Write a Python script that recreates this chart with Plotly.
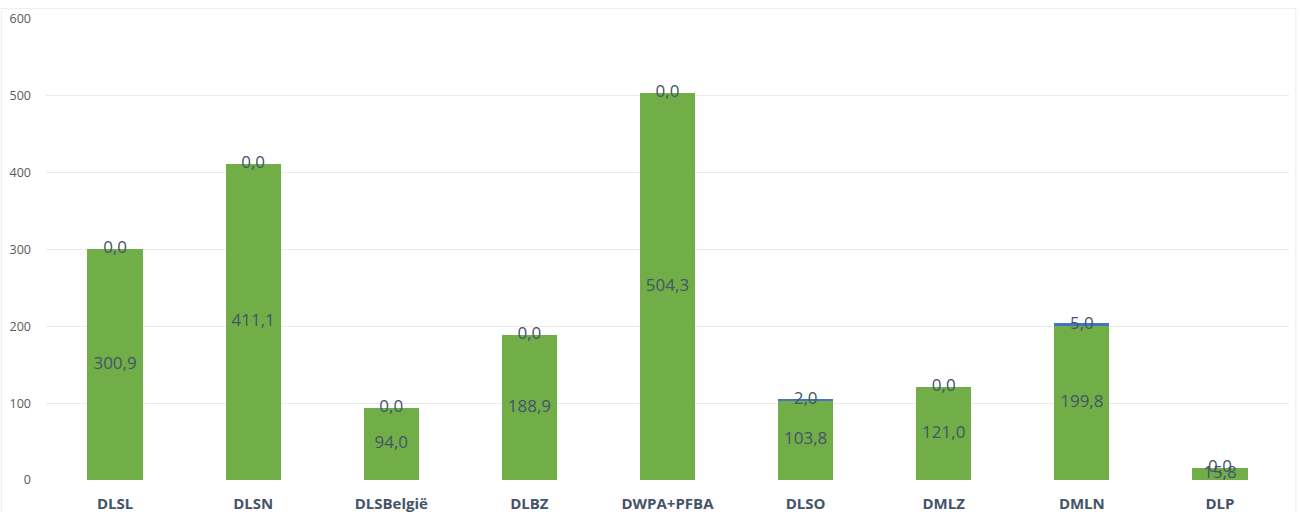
import plotly.graph_objects as go

categories = ["DLSL", "DLSN", "DLSBelgië", "DLBZ", "DWPA+PFBA", "DLSO", "DMLZ", "DMLN", "DLP"]
green_values = [300.9, 411.1, 94.0, 188.9, 504.3, 103.8, 121.0, 199.8, 15.8]
blue_values = [0.0, 0.0, 0.0, 0.0, 0.0, 2.0, 0.0, 5.0, 0.0]
y_ticks = [0, 100, 200, 300, 400, 500, 600]

def fmt(v):
    return f"{v:.1f}".replace(".", ",")

label_color = "#44546A"
label_font = dict(family="Open Sans", size=17, color=label_color)

fig = go.Figure()
fig.add_trace(go.Bar(x=categories, y=green_values, marker=dict(color="#71AE48", line=dict(width=0)),
                     hoverinfo="skip", showlegend=False))
fig.add_trace(go.Bar(x=categories, y=blue_values, marker=dict(color="#4472C4", line=dict(width=0)),
                     hoverinfo="skip", showlegend=False))
# labels for green segment (centered)
fig.add_trace(go.Scatter(x=categories, y=[g / 2 for g in green_values], mode="text",
                         text=[fmt(v) for v in green_values], textfont=label_font,
                         textposition="middle center", hoverinfo="skip", showlegend=False))
# labels for blue segment (centered on top segment)
fig.add_trace(go.Scatter(x=categories, y=[g + b / 2 for g, b in zip(green_values, blue_values)], mode="text",
                         text=[fmt(v) for v in blue_values], textfont=label_font,
                         textposition="middle center", hoverinfo="skip", showlegend=False))

fig.update_layout(
    barmode="stack",
    bargap=0.6,
    width=1300, height=512,
    margin=dict(l=46, r=11, t=19, b=32, autoexpand=False),
    paper_bgcolor="white", plot_bgcolor="white",
    font=dict(family="Open Sans"),
    xaxis=dict(showgrid=False, showline=False, ticks="", zeroline=False, automargin=False,
               tickfont=dict(family="Open Sans", size=15, color=label_color, weight="bold"),
               ticklabelstandoff=13),
    yaxis=dict(range=[0, 600], tickvals=y_ticks, showgrid=True, gridcolor="#E8EAEE", gridwidth=1,
               zeroline=False, showline=False, ticks="", automargin=False,
               tickfont=dict(family="Open Sans", size=12.5, color="#595959"),
               ticklabelstandoff=14),
    shapes=[dict(type="rect", xref="paper", yref="paper", x0=-0.036, x1=1.0055, y0=-0.1, y1=1.023,
                 line=dict(color="#EEEEEE", width=1), layer="below")],
)

fig.write_html("out.html")
